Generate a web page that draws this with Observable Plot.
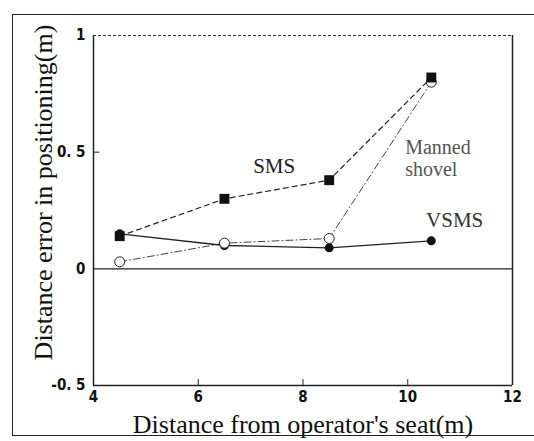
<!DOCTYPE html>
<html>
<head>
<meta charset="utf-8">
<script src="https://cdn.jsdelivr.net/npm/d3@7"></script>
<script src="https://cdn.jsdelivr.net/npm/@observablehq/plot@0.6"></script>
<style>
  body { margin: 0; background: #fff; }
  #wrap { position: relative; width: 534px; height: 441px; }
  #border { position: absolute; left: 12px; top: 14px; width: 524px; height: 422px; border: 1.5px solid #222; box-sizing: border-box; pointer-events: none; }
</style>
</head>
<body>
<div id="wrap"><div id="border"></div></div>
<script>
const distances = [4.5, 6.5, 8.5, 10.45];
const smsValues = [0.14, 0.30, 0.38, 0.82];
const mannedValues = [0.03, 0.11, 0.13, 0.80];
const vsmsValues = [0.15, 0.10, 0.09, 0.12];
const xTicks = [4, 6, 8, 10, 12];
const yTicks = [-0.5, 0, 0.5, 1];
const xLabel = "Distance from operator's seat(m)";
const yLabel = "Distance error in positioning(m)";

const sms = distances.map((d, i) => ({x: d, y: smsValues[i]}));
const manned = distances.map((d, i) => ({x: d, y: mannedValues[i]}));
const vsms = distances.map((d, i) => ({x: d, y: vsmsValues[i]}));

const serif = "'Liberation Serif', 'DejaVu Serif', serif";
const narrow = "'Liberation Sans Narrow', 'DejaVu Sans Condensed', sans-serif";

const chart = Plot.plot({
  width: 534,
  height: 441,
  marginLeft: 93,
  marginRight: 22,
  marginTop: 35,
  marginBottom: 56,
  style: {fontFamily: serif, background: "transparent", color: "#111"},
  x: {domain: [4, 12]},
  y: {domain: [-0.5, 1]},
  marks: [
    // frame
    Plot.ruleX([4, 12], {y1: -0.5, y2: 1, stroke: "#222", strokeWidth: 1.5}),
    Plot.ruleY([-0.5], {x1: 4, x2: 12, stroke: "#222", strokeWidth: 1.5}),
    Plot.ruleY([1], {x1: 4, x2: 12, stroke: "#333", strokeWidth: 1, strokeDasharray: "3,2"}),
    Plot.ruleY([0], {x1: 4, x2: 12, stroke: "#222", strokeWidth: 1.2}),
    // inward ticks
    Plot.ruleX([6, 8, 10], {y1: -0.5, y2: -0.475, stroke: "#222"}),
    Plot.ruleY([0.5], {x1: 4, x2: 4.12, stroke: "#222"}),
    // tick labels
    Plot.axisX({ticks: xTicks, tickSize: 0, tickPadding: 6, fontFamily: narrow, fontWeight: "bold", fontSize: 15, label: null}),
    Plot.axisY({ticks: yTicks, tickSize: 0, tickPadding: 8, fontFamily: narrow, fontWeight: "bold", fontSize: 15,
      tickFormat: d => String(d).replace(".", ". "), label: null}),
    // axis titles
    Plot.text([xLabel], {frameAnchor: "bottom", dy: 47, lineAnchor: "bottom", textAnchor: "middle", text: d => d, fontSize: 26, fontFamily: serif, fill: "#111"}),
    Plot.text([yLabel], {frameAnchor: "left", dx: -50, dy: -18, rotate: -90, textAnchor: "middle", lineAnchor: "middle", text: d => d, fontSize: 26, fontFamily: serif, fill: "#111"}),
    // series lines
    Plot.line(manned, {x: "x", y: "y", stroke: "#444", strokeWidth: 1, strokeDasharray: "7,3,1,3"}),
    Plot.line(sms, {x: "x", y: "y", stroke: "#222", strokeWidth: 1.2, strokeDasharray: "5,4"}),
    Plot.line(vsms, {x: "x", y: "y", stroke: "#222", strokeWidth: 1.3}),
    // markers
    Plot.dot(vsms, {x: "x", y: "y", r: 4.5, fill: "#111", stroke: "none"}),
    Plot.dot(manned, {x: "x", y: "y", r: 5, fill: "white", stroke: "#222", strokeWidth: 1}),
    Plot.dot(sms, {x: "x", y: "y", symbol: "square", r: 5.6, fill: "#111", stroke: "none"}),
    // annotations
    Plot.text(["SMS"], {x: 7.45, y: 0.44, text: d => d, fontSize: 21, fill: "#222"}),
    Plot.text(["Manned"], {x: 9.95, y: 0.52, text: d => d, fontSize: 20, fill: "#555", textAnchor: "start"}),
    Plot.text(["shovel"], {x: 9.95, y: 0.425, text: d => d, fontSize: 20, fill: "#555", textAnchor: "start"}),
    Plot.text(["VSMS"], {x: 10.35, y: 0.21, text: d => d, fontSize: 21, fill: "#333", textAnchor: "start"})
  ]
});
document.getElementById("wrap").prepend(chart);
</script>
</body>
</html>
